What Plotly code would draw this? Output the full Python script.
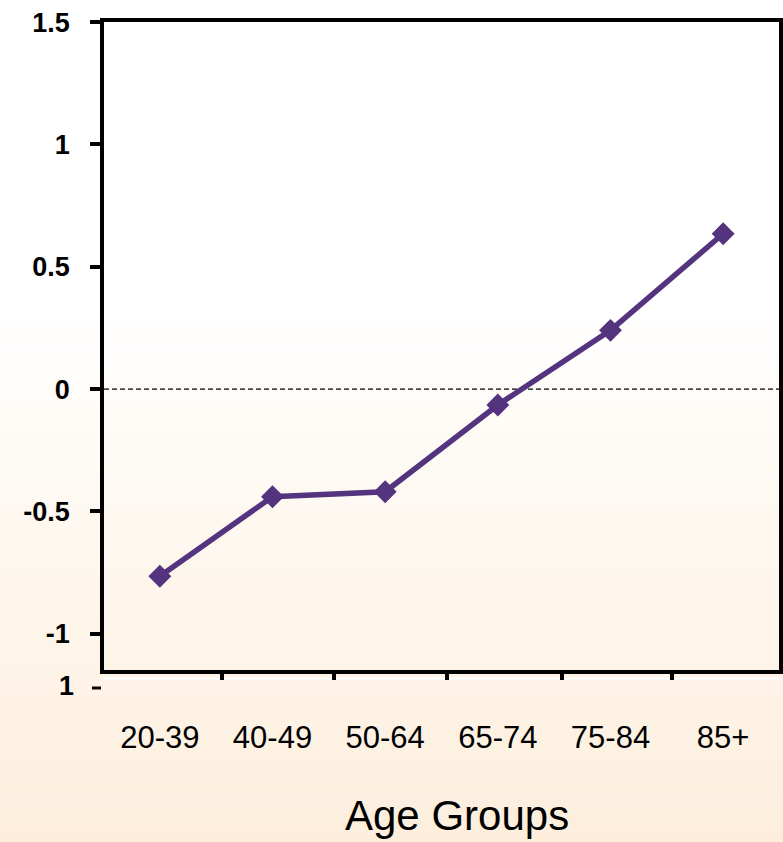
import plotly.graph_objects as go

# Data
age_groups = ["20-39", "40-49", "50-64", "65-74", "75-84", "85+"]
values = [-0.765, -0.44, -0.42, -0.065, 0.24, 0.635]
y_ticks = [-1, -0.5, 0, 0.5, 1, 1.5]
y_tick_text = ["-1", "-0.5", "0", "0.5", "1", "1.5"]

W, H = 783, 842
L, R, T, B = 104, 0, 22, 172
plot_w = W - L - R
plot_h = H - T - B


def px_to_paper_x(px):
    return (px - L) / plot_w


def px_to_paper_y(py):
    return (H - B - py) / plot_h


xpos = list(range(len(age_groups)))
line_color = "#54337F"

fig = go.Figure()

fig.add_trace(go.Scatter(
    x=xpos, y=values, mode="lines+markers",
    line=dict(color=line_color, width=5.5),
    marker=dict(symbol="diamond", size=16, color=line_color,
                line=dict(color=line_color, width=1.5)),
    hoverinfo="skip", showlegend=False,
))
# carrier trace for the boundary-tick axis
fig.add_trace(go.Scatter(
    x=[0], y=[0], xaxis="x2", mode="markers",
    marker=dict(opacity=0), hoverinfo="skip", showlegend=False,
))

# soft white-to-peach page background built from thin bands
shapes = []
top_px, bot_px = 300, H
c0 = (255, 255, 255)
c1 = (253, 238, 220)
n = 90
for i in range(n):
    y0 = top_px + (bot_px - top_px) * i / n
    y1 = top_px + (bot_px - top_px) * (i + 1) / n
    t = (i + 0.5) / n
    col = tuple(round(c0[k] + (c1[k] - c0[k]) * t) for k in range(3))
    shapes.append(dict(
        type="rect", xref="paper", yref="paper", layer="below",
        x0=px_to_paper_x(-5), x1=px_to_paper_x(W + 5),
        y0=px_to_paper_y(y1 + 0.6), y1=px_to_paper_y(y0),
        fillcolor="rgb(%d,%d,%d)" % col, line=dict(width=0),
    ))

# dashed reference line at zero
shapes.append(dict(
    type="line", xref="paper", yref="y", layer="below",
    x0=0, x1=1, y0=0, y1=0,
    line=dict(color="black", width=1.3, dash="5px,3px"),
))
# thin white rule under the bottom frame
shapes.append(dict(
    type="line", xref="paper", yref="paper", layer="below",
    x0=0, x1=1, y0=px_to_paper_y(678.5), y1=px_to_paper_y(678.5),
    line=dict(color="white", width=2),
))
# stray tick mark beside the extra "1" label
shapes.append(dict(
    type="line", xref="paper", yref="paper",
    x0=px_to_paper_x(92), x1=px_to_paper_x(101),
    y0=px_to_paper_y(688), y1=px_to_paper_y(688),
    line=dict(color="black", width=3),
))

x_range = [-0.4956, 5.4956]

fig.update_layout(
    width=W, height=H,
    margin=dict(l=L, r=R, t=T, b=B, pad=0),
    paper_bgcolor="white",
    plot_bgcolor="rgba(0,0,0,0)",
    font=dict(family="Liberation Sans, Arial, sans-serif", color="black"),
    shapes=shapes,
    xaxis=dict(
        range=x_range, tickvals=xpos, ticktext=age_groups,
        ticks="", showgrid=False, zeroline=False,
        showline=True, linecolor="black", linewidth=3.5, mirror=True,
        tickfont=dict(size=31, color="black"),
        ticklabelstandoff=37,
    ),
    xaxis2=dict(
        range=x_range, overlaying="x", anchor="y", side="bottom",
        tickvals=[0.55, 1.55, 2.55, 3.57, 4.55],
        showticklabels=False, ticks="outside", ticklen=9, tickwidth=3.5,
        tickcolor="black", showgrid=False, zeroline=False, showline=False,
    ),
    yaxis=dict(
        range=[-1.1485, 1.5005], tickvals=y_ticks, ticktext=y_tick_text,
        ticks="outside", ticklen=10, tickwidth=3.5, tickcolor="black",
        showgrid=False, zeroline=False,
        showline=True, linecolor="black", linewidth=3.5, mirror=True,
        tickfont=dict(size=27, color="black", weight="bold"),
        ticklabelstandoff=15,
    ),
    annotations=[
        dict(text="Age Groups", xref="paper", yref="paper",
             x=px_to_paper_x(459), y=px_to_paper_y(815),
             xanchor="center", yanchor="middle", showarrow=False,
             font=dict(size=42, color="black")),
        dict(text="1", xref="paper", yref="paper",
             x=px_to_paper_x(76), y=px_to_paper_y(686),
             xanchor="right", yanchor="middle", showarrow=False,
             font=dict(size=27, color="black", weight="bold")),
    ],
)

fig.write_html("out.html")
